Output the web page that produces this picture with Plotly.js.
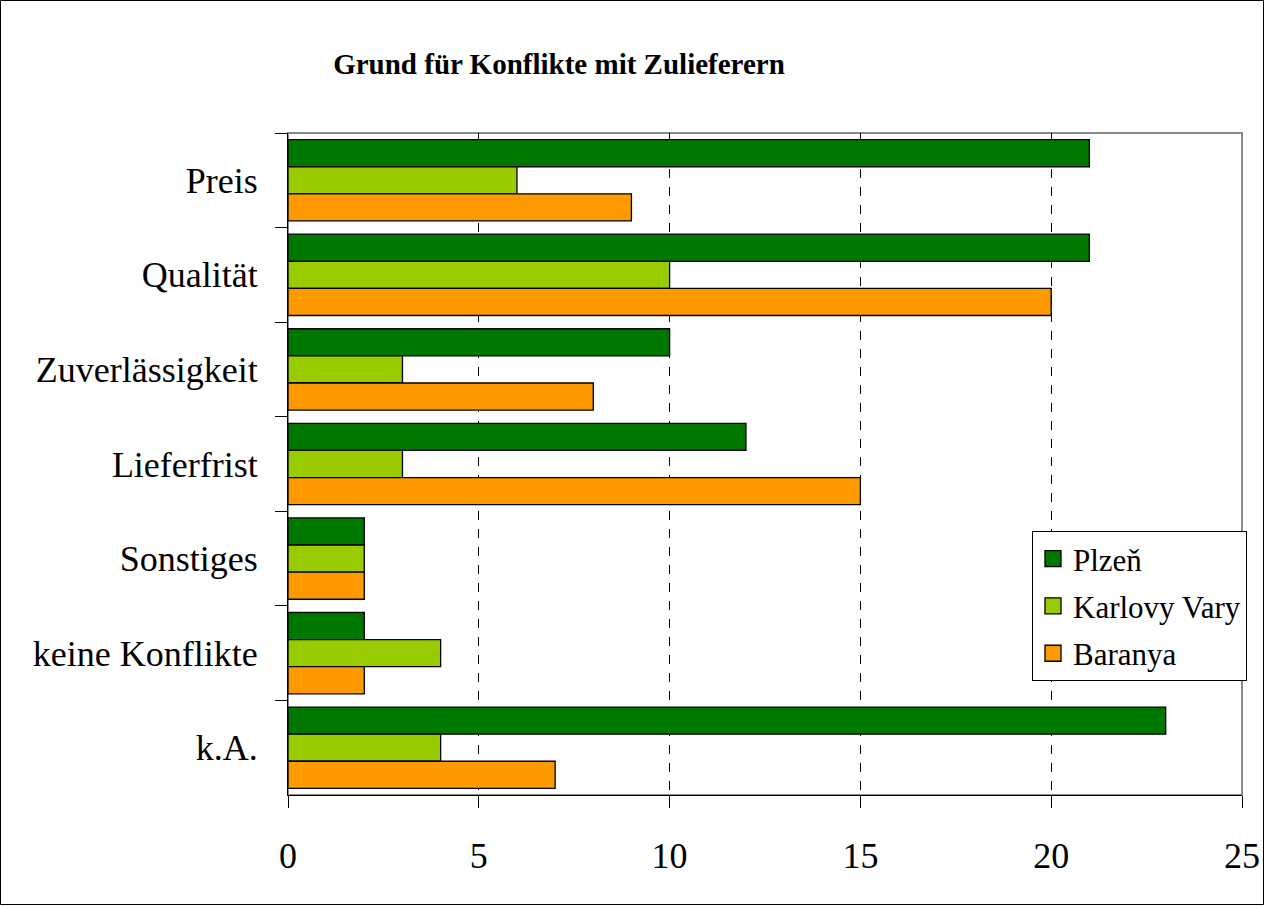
<!DOCTYPE html>
<html>
<head>
<meta charset="utf-8">
<script src="https://cdn.plot.ly/plotly-3.0.1.min.js"></script>
<style>
  html, body { margin: 0; padding: 0; background: #ffffff; }
  #chart { width: 1265px; height: 906px; }
</style>
</head>
<body>
<div id="chart"></div>
<script>
// ---- data ----
const categories = ["Preis", "Qualität", "Zuverlässigkeit", "Lieferfrist", "Sonstiges", "keine Konflikte", "k.A."];
const seriesNames = ["Plzeň", "Karlovy Vary", "Baranya"];
const plzen = [21, 21, 10, 12, 2, 2, 23];
const karlovyVary = [6, 10, 3, 3, 2, 4, 4];
const baranya = [9, 20, 8, 15, 2, 2, 7];
const xTicks = [0, 5, 10, 15, 20, 25];
const gridTicks = [5, 10, 15, 20];

const colors = ["#007800", "#99cc00", "#ff9900"];
const values = [plzen, karlovyVary, baranya];

const W = 1265, H = 906;
const M = { l: 288, r: 23, t: 133, b: 111 };
const pw = W - M.l - M.r, ph = H - M.t - M.b;

const serif = "'Liberation Serif', 'Times New Roman', Times, serif";

const traces = values.map((v, i) => ({
  type: "bar",
  orientation: "h",
  name: seriesNames[i],
  y: categories,
  x: v,
  showlegend: false,
  marker: { color: colors[i], line: { color: "#000000", width: 1.3 } },
  hoverinfo: "x+y+name"
}));

// legend entries (larger square swatches)
seriesNames.forEach((n, i) => {
  traces.push({
    type: "scatter", mode: "markers", name: n,
    legendgroup: "g" + i,
    x: [null], y: [null],
    marker: { symbol: "square", size: 16, color: colors[i], line: { color: "#000000", width: 1.3 } },
    showlegend: true, hoverinfo: "skip"
  });
});

// invisible trace to carry the dashed grid axis
traces.push({
  type: "scatter", mode: "markers", x: [0], y: [categories[0]],
  xaxis: "x2", yaxis: "y", marker: { opacity: 0 }, showlegend: false, hoverinfo: "skip"
});

const layout = {
  width: W, height: H,
  margin: M,
  paper_bgcolor: "#ffffff",
  plot_bgcolor: "#ffffff",
  font: { family: serif, color: "#000000" },
  title: {
    text: "<b>Grund für Konflikte mit Zulieferern</b>",
    font: { family: serif, size: 29, color: "#000000" },
    x: 559 / W, xanchor: "center", xref: "container",
    y: 1 - 64 / H, yanchor: "middle", yref: "container"
  },
  barmode: "group",
  bargap: 0.14,
  bargroupgap: 0,
  xaxis: {
    range: [0, 25],
    tickvals: xTicks,
    ticktext: xTicks.map(String),
    showgrid: false,
    zeroline: false,
    showline: true, linecolor: "#000000", linewidth: 1,
    ticks: "outside", ticklen: 12, tickcolor: "#000000", tickwidth: 1,
    ticklabelstandoff: 17,
    tickfont: { family: serif, size: 36, color: "#000000" },
    fixedrange: true
  },
  xaxis2: {
    overlaying: "x",
    range: [0, 25],
    tickvals: gridTicks,
    showticklabels: false,
    ticks: "",
    showgrid: true, griddash: "dash", gridcolor: "#000000", gridwidth: 1,
    zeroline: false, showline: false,
    side: "bottom",
    fixedrange: true
  },
  yaxis: {
    type: "category",
    autorange: "reversed",
    tickson: "boundaries",
    ticks: "outside", ticklen: 12, tickcolor: "#000000", tickwidth: 1,
    showgrid: false,
    zeroline: false,
    showline: true, linecolor: "#000000", linewidth: 1,
    ticklabelstandoff: 22,
    tickfont: { family: serif, size: 36, color: "#000000" },
    fixedrange: true
  },
  legend: {
    x: (1032 - M.l) / pw, xanchor: "left",
    y: (H - M.b - 531) / ph, yanchor: "top",
    bgcolor: "#ffffff",
    bordercolor: "#000000", borderwidth: 1,
    font: { family: serif, size: 31, color: "#000000" },
    traceorder: "grouped",
    tracegroupgap: 4,
    itemwidth: 30
  },
  shapes: [
    // plot-area frame (grey)
    { type: "rect", xref: "paper", yref: "paper", x0: 0, x1: 1, y0: 0, y1: 1,
      line: { color: "#888888", width: 2 }, layer: "below" },
    // outer chart border
    { type: "rect", xref: "paper", yref: "paper",
      x0: -(M.l - 0.5) / pw, x1: 1 + (M.r - 1.5) / pw,
      y0: -(M.b - 1.5) / ph, y1: 1 + (M.t - 0.5) / ph,
      line: { color: "#000000", width: 1 }, layer: "above" }
  ]
};

Plotly.newPlot("chart", traces, layout, { displayModeBar: false });
</script>
</body>
</html>
